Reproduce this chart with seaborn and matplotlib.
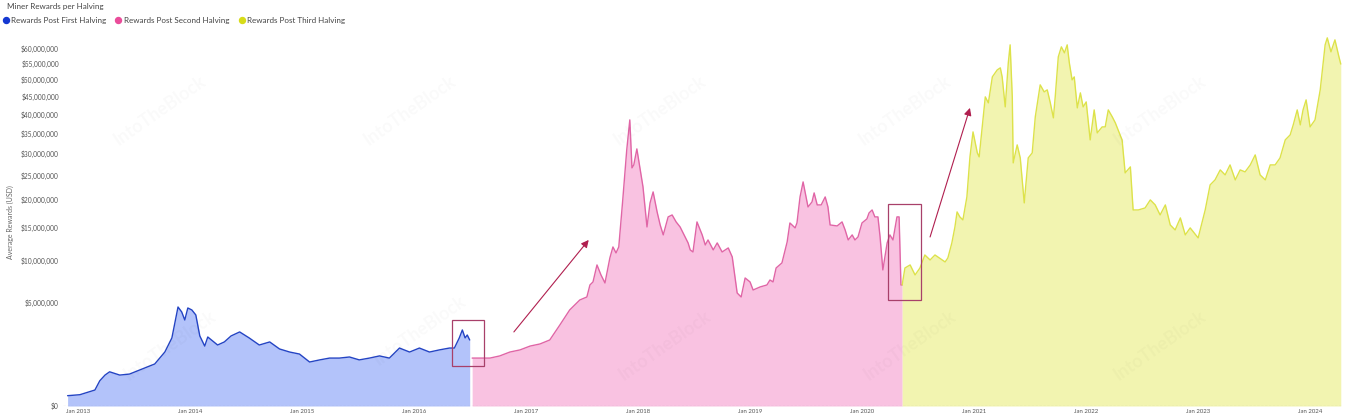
import numpy as np
import pandas as pd
import matplotlib
matplotlib.use("Agg")
import matplotlib.pyplot as plt
import matplotlib.dates as mdates
from matplotlib.lines import Line2D
from matplotlib.patches import Rectangle
from matplotlib.ticker import FuncFormatter
import seaborn as sns

# ---- data (average daily miner rewards, USD millions) ----
first_dates = ["2012-11-28", "2013-01-07", "2013-02-25", "2013-03-13", "2013-03-30", "2013-04-14",
               "2013-05-17", "2013-06-18", "2013-07-21", "2013-09-08", "2013-10-11", "2013-11-03",
               "2013-11-23", "2013-12-05", "2013-12-15", "2013-12-25", "2014-01-07", "2014-01-20",
               "2014-02-02", "2014-02-18", "2014-02-28", "2014-03-12", "2014-04-01", "2014-04-23",
               "2014-05-15", "2014-06-12", "2014-07-13", "2014-08-15", "2014-09-18", "2014-10-20",
               "2014-11-22", "2014-12-24", "2015-01-26", "2015-02-28", "2015-04-01", "2015-05-03",
               "2015-06-05", "2015-07-07", "2015-08-09", "2015-09-11", "2015-10-13", "2015-11-15",
               "2015-12-18", "2016-01-19", "2016-02-21", "2016-03-24", "2016-04-26", "2016-05-12",
               "2016-05-28", "2016-06-07", "2016-06-16", "2016-06-23", "2016-07-01"]
first_vals = [0.05, 0.06, 0.12, 0.30, 0.45, 0.55,
              0.45, 0.48, 0.61, 0.83, 1.37, 2.18,
              4.61, 4.16, 3.48, 4.52, 4.34, 3.90,
              2.31, 1.69, 2.24, 2.05, 1.75, 1.93,
              2.31, 2.58, 2.18, 1.75, 1.93, 1.53,
              1.37, 1.27, 0.91, 1.00, 1.08, 1.08,
              1.13, 1.00, 1.08, 1.18, 1.08, 1.58,
              1.37, 1.58, 1.37, 1.48, 1.58, 1.58,
              2.18, 2.72, 2.18, 2.37, 2.05]

second_dates = ["2016-07-09", "2016-08-03", "2016-09-05", "2016-10-07", "2016-11-09", "2016-12-12",
                "2017-01-14", "2017-02-15", "2017-03-19", "2017-04-21", "2017-05-23", "2017-06-25",
                "2017-07-18", "2017-07-28", "2017-08-07", "2017-08-20", "2017-09-02", "2017-09-15",
                "2017-10-01", "2017-10-11", "2017-10-21", "2017-10-30", "2017-11-12", "2017-11-25",
                "2017-12-05", "2017-12-12", "2017-12-18", "2017-12-28", "2018-01-17", "2018-01-30",
                "2018-02-09", "2018-02-19", "2018-03-04", "2018-03-14", "2018-03-24", "2018-04-09",
                "2018-04-22", "2018-05-05", "2018-05-18", "2018-06-13", "2018-06-20", "2018-06-29",
                "2018-07-12", "2018-07-29", "2018-08-08", "2018-08-17", "2018-09-03", "2018-09-16",
                "2018-10-02", "2018-10-22", "2018-11-04", "2018-11-20", "2018-12-03", "2018-12-16",
                "2019-01-01", "2019-01-11", "2019-02-03", "2019-02-25", "2019-03-07", "2019-03-17",
                "2019-03-27", "2019-04-15", "2019-05-02", "2019-05-11", "2019-05-28", "2019-06-03",
                "2019-06-13", "2019-06-23", "2019-07-09", "2019-07-22", "2019-07-29", "2019-08-08",
                "2019-08-21", "2019-09-03", "2019-09-12", "2019-09-19", "2019-10-12", "2019-10-28",
                "2019-11-07", "2019-11-17", "2019-11-30", "2019-12-09", "2019-12-19", "2020-01-01",
                "2020-01-17", "2020-01-24", "2020-02-03", "2020-02-12", "2020-02-22", "2020-02-29",
                "2020-03-09", "2020-03-23", "2020-04-01", "2020-04-11", "2020-04-24", "2020-05-01",
                "2020-05-07", "2020-05-11"]
second_vals = [1.08, 1.08, 1.08, 1.18, 1.37, 1.48,
               1.69, 1.81, 2.05, 3.09, 4.34, 5.29,
               5.59, 6.89, 7.24, 9.36, 8.08, 7.12,
               10.31, 11.90, 11.02, 11.90, 19.98, 30.85,
               38.50, 26.67, 27.34, 31.09, 22.58, 15.08,
               19.40, 21.56, 17.72, 15.42, 13.77, 16.82,
               17.17, 15.94, 15.08, 12.51, 11.46, 11.16,
               15.94, 13.77, 12.20, 12.97, 11.46, 12.51,
               11.16, 11.75, 10.45, 6.01, 5.59, 7.71,
               7.24, 6.33, 6.67, 6.89, 7.47, 7.24,
               8.96, 9.63, 12.66, 15.76, 14.92, 15.76,
               20.56, 23.62, 18.64, 19.59, 21.36, 19.02,
               19.02, 20.56, 18.64, 15.42, 15.25, 15.94,
               14.58, 12.97, 13.77, 12.97, 13.44, 15.76,
               16.46, 17.53, 18.08, 16.82, 16.82, 13.44,
               8.71, 12.51, 13.77, 12.97, 16.82, 16.82,
               6.89, 6.89]

third_dates = ["2020-05-11", "2020-05-20", "2020-06-06", "2020-06-22", "2020-07-08", "2020-07-24",
               "2020-08-10", "2020-08-26", "2020-09-28", "2020-10-07", "2020-10-20", "2020-10-30",
               "2020-11-06", "2020-11-15", "2020-11-25", "2020-12-08", "2020-12-18", "2020-12-28",
               "2021-01-11", "2021-01-17", "2021-01-27", "2021-02-06", "2021-02-16", "2021-03-01",
               "2021-03-17", "2021-03-27", "2021-04-02", "2021-04-12", "2021-04-22", "2021-04-28",
               "2021-05-05", "2021-05-08", "2021-05-21", "2021-05-31", "2021-06-13", "2021-06-26",
               "2021-07-09", "2021-07-19", "2021-08-04", "2021-08-17", "2021-08-27", "2021-09-06",
               "2021-09-16", "2021-09-22", "2021-10-02", "2021-10-12", "2021-10-22", "2021-10-31",
               "2021-11-07", "2021-11-16", "2021-11-23", "2021-12-03", "2021-12-13", "2021-12-22",
               "2022-01-01", "2022-01-14", "2022-01-27", "2022-02-06", "2022-02-22", "2022-03-04",
               "2022-03-14", "2022-03-27", "2022-04-06", "2022-04-15", "2022-04-28", "2022-05-08",
               "2022-05-25", "2022-06-03", "2022-06-20", "2022-07-12", "2022-07-29", "2022-08-14",
               "2022-08-30", "2022-09-16", "2022-10-02", "2022-10-18", "2022-11-04", "2022-11-20",
               "2022-12-06", "2023-01-01", "2023-01-24", "2023-02-09", "2023-02-25", "2023-03-14",
               "2023-03-30", "2023-04-15", "2023-05-02", "2023-05-18", "2023-06-03", "2023-06-20",
               "2023-07-06", "2023-07-22", "2023-08-08", "2023-08-24", "2023-09-09", "2023-09-25",
               "2023-10-12", "2023-10-28", "2023-11-07", "2023-11-20", "2023-11-30", "2023-12-09",
               "2023-12-19", "2024-01-01", "2024-01-17", "2024-02-03", "2024-02-19", "2024-02-26",
               "2024-03-09", "2024-03-22", "2024-04-04", "2024-04-10"]
third_vals = [6.89, 8.96, 9.36, 8.08, 8.96, 10.73,
              10.03, 10.73, 9.76, 10.31, 12.51, 15.08,
              17.72, 16.82, 16.29, 20.56, 29.19, 35.34,
              30.13, 29.19, 36.64, 44.95, 43.22, 50.95,
              53.14, 53.78, 50.95, 42.08, 55.38, 61.35,
              44.95, 27.80, 32.07, 28.95, 19.40, 28.95,
              30.13, 39.32, 48.51, 46.41, 47.01, 43.22,
              39.05, 44.95, 57.34, 60.67, 58.66, 61.35,
              55.38, 50.03, 50.95, 41.80, 46.12, 42.08,
              43.50, 33.31, 41.24, 35.08, 36.64, 36.64,
              41.24, 39.32, 37.70, 35.86, 33.31, 25.56,
              26.89, 18.08, 18.08, 18.45, 19.98, 19.02,
              17.17, 19.02, 15.42, 14.58, 16.64, 13.77,
              14.92, 13.29, 18.08, 22.99, 24.04, 26.22,
              25.12, 27.34, 24.04, 26.22, 25.78, 27.34,
              29.66, 25.12, 24.04, 27.34, 27.34, 28.95,
              33.31, 34.57, 37.17, 41.24, 37.17, 41.24,
              44.08, 36.64, 38.50, 47.01, 61.35, 63.75,
              58.99, 63.06, 57.34, 55.00]

series_names = ["Rewards Post First Halving", "Rewards Post Second Halving", "Rewards Post Third Halving"]
line_colors = ["#2444c4", "#e065a6", "#dde24a"]
fill_colors = ["#b3c3fa", "#f9c2e1", "#f2f4b0"]
dot_colors = ["#1538d1", "#ea4c9a", "#d7dc19"]

frames = []
for name, d, v in zip(series_names,
                      [first_dates, second_dates, third_dates],
                      [first_vals, second_vals, third_vals]):
    frames.append(pd.DataFrame({"date": pd.to_datetime(d),
                                "usd": np.array(v) * 1e6,
                                "series": name}))
df = pd.concat(frames, ignore_index=True)

# ---- plot ----
sns.set_theme(style="white")
plt.rcParams["font.family"] = ["Lato", "DejaVu Sans"]

fig = plt.figure(figsize=(13.45, 4.2), dpi=100)
ax = fig.add_axes([63 / 1345, 14 / 420, 1279 / 1345, 376 / 420])
ax.set_yscale("function", functions=(lambda v: np.sqrt(np.clip(v, 0, None)), np.square))

for name, lc, fc in zip(series_names, line_colors, fill_colors):
    sub = df[df["series"] == name]
    ax.fill_between(sub["date"], 0, sub["usd"], color=fc, lw=0, zorder=1)
    sns.lineplot(data=sub, x="date", y="usd", ax=ax, color=lc, lw=1.0, zorder=2, legend=False)

ax.axhline(0, color="#9a9a9a", lw=0.8, ls=(0, (2, 1.5)), zorder=3)

ax.set_xlim(pd.Timestamp("2012-11-13"), pd.Timestamp("2024-04-14"))
ax.set_ylim(0, 66.5e6)
ax.set_yticks(np.arange(0, 60e6 + 1, 5e6))
ax.yaxis.set_major_formatter(FuncFormatter(lambda v, p: f"${v:,.0f}"))
ax.xaxis.set_major_locator(mdates.YearLocator())
ax.xaxis.set_major_formatter(mdates.DateFormatter("Jan %Y"))
ax.tick_params(axis="y", length=0, pad=3, labelsize=4.8, labelcolor="#555555")
ax.tick_params(axis="x", length=0, pad=2.5, labelsize=4.3, labelcolor="#555555")
for s in ax.spines.values():
    s.set_visible(False)
ax.set_xlabel("")
ax.set_ylabel("")
fig.text(10 / 1345, 1 - 222 / 420, "Average Rewards (USD)", rotation=90,
         ha="center", va="center", fontsize=5, color="#666666")

# watermark
for wx, wy in [(160, 110), (410, 110), (660, 110), (905, 110), (1160, 110),
               (170, 345), (420, 330), (665, 345), (910, 345), (1160, 345)]:
    fig.text(wx / 1345, 1 - wy / 420, "IntoTheBlock", rotation=35, ha="center", va="center",
             fontsize=13, fontweight="bold", color="#000000", alpha=0.022)

# highlight boxes and arrows
box_color = "#a8406a"
for x0, x1, y0, y1 in [("2016-05-04", "2016-08-16", 0.75e6, 3.48e6),
                       ("2020-03-25", "2020-07-11", 5.29e6, 19.21e6)]:
    a = mdates.date2num(pd.Timestamp(x0))
    b = mdates.date2num(pd.Timestamp(x1))
    ax.add_patch(Rectangle((a, y0), b - a, y1 - y0, fill=False, ec=box_color, lw=0.9, zorder=4))

for (tx, ty), (hx, hy) in [(("2016-11-22", 2.58e6), ("2017-07-24", 12.97e6)),
                           (("2020-08-10", 13.44e6), ("2020-12-18", 41.8e6))]:
    ax.annotate("", xy=(pd.Timestamp(hx), hy), xytext=(pd.Timestamp(tx), ty),
                arrowprops=dict(arrowstyle="-|>", color="#b01f4f", lw=0.8,
                                mutation_scale=11, shrinkA=0, shrinkB=0), zorder=5)

# title + legend
fig.text(7 / 1345, 1 - 6 / 420, "Miner Rewards per Halving", ha="left", va="center",
         fontsize=5.8, color="#444444")
handles = [Line2D([0], [0], marker="o", ls="", markersize=4.3, markerfacecolor=c, markeredgecolor=c)
           for c in dot_colors]
fig.legend(handles, series_names, loc="center left", bbox_to_anchor=(0.0, 1 - 20 / 420),
           ncol=3, frameon=False, fontsize=5.8, handletextpad=0.2, columnspacing=1.0,
           handlelength=1.0, borderaxespad=0, borderpad=0.2, labelcolor="#444444")

fig.savefig("out.png", dpi=100)
